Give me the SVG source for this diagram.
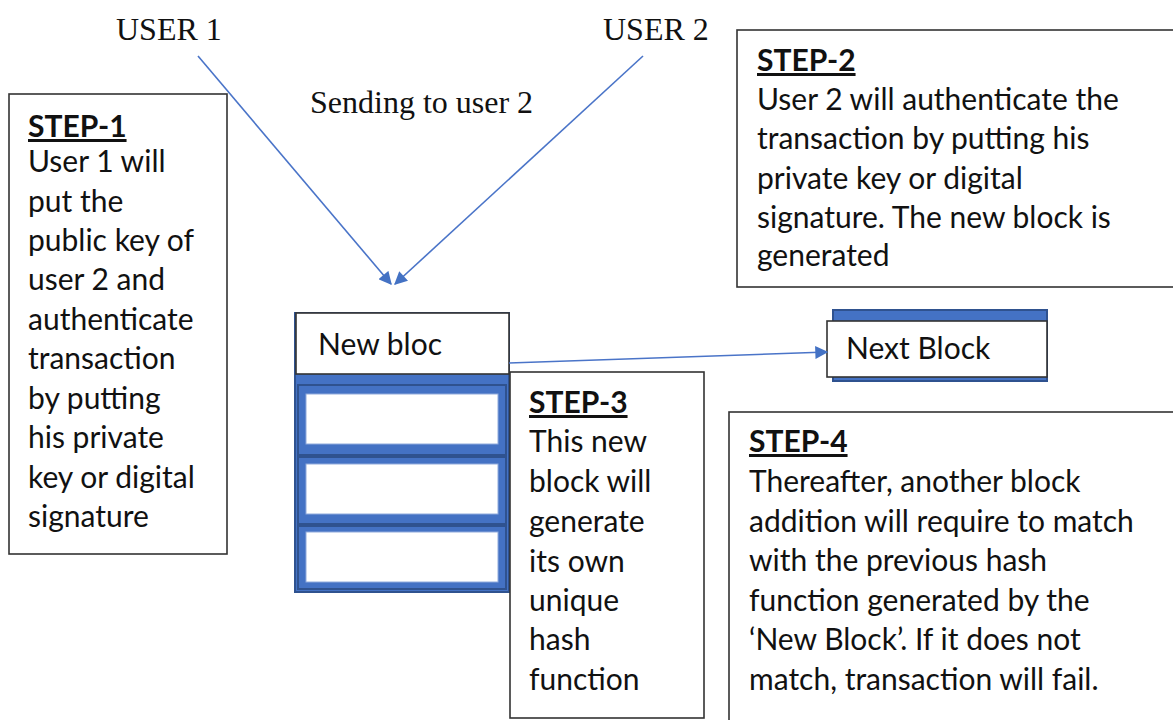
<svg xmlns="http://www.w3.org/2000/svg" width="1173" height="720" viewBox="0 0 1173 720">
<defs>
<style>
.box{fill:#fff;stroke:#333;stroke-width:1.6}
.t{font-family:Lato,"Open Sans","Liberation Sans",sans-serif;font-size:30px;fill:#111}
.h{font-weight:bold;text-decoration:underline}
.ser{font-family:"Liberation Serif","Times New Roman",serif;font-size:32px;fill:#111}
.conn{stroke:#4a74c8;stroke-width:1.6;fill:none}
.blue{fill:#4472c4;stroke:#2f528f;stroke-width:2}
.cell{fill:#fff;stroke:#8faadc;stroke-width:1}
</style>
<marker id="arrB" viewBox="0 0 10 10" refX="9" refY="5" markerWidth="14" markerHeight="13" markerUnits="userSpaceOnUse" orient="auto">
<path d="M0,0 L10,5 L0,10 z" fill="#4472c4"/>
</marker>
</defs>
<rect width="1173" height="720" fill="#fff"/>

<g id="user1"><text class="ser" x="116" y="40">USER 1</text></g>
<g id="user2"><text class="ser" x="603" y="40">USER 2</text></g>
<g id="sending"><text class="ser" x="310" y="113">Sending to user 2</text></g>

<g id="step1">
<rect class="box" x="9" y="94" width="218" height="460"/>
<text class="t" x="28" y="137"><tspan class="h">STEP-1</tspan>
<tspan x="28" y="172">User 1 will</tspan>
<tspan x="28" y="212">put the</tspan>
<tspan x="28" y="251">public key of</tspan>
<tspan x="28" y="290">user 2 and</tspan>
<tspan x="28" y="330">authenticate</tspan>
<tspan x="28" y="369">transaction</tspan>
<tspan x="28" y="409">by putting</tspan>
<tspan x="28" y="448">his private</tspan>
<tspan x="28" y="488">key or digital</tspan>
<tspan x="28" y="527">signature</tspan></text>
</g>

<g id="step2">
<rect class="box" x="737" y="30" width="440" height="257"/>
<text class="t" x="757" y="71"><tspan class="h">STEP-2</tspan>
<tspan x="757" y="110">User 2 will authenticate the</tspan>
<tspan x="757" y="149">transaction by putting his</tspan>
<tspan x="757" y="189">private key or digital</tspan>
<tspan x="757" y="228">signature. The new block is</tspan>
<tspan x="757" y="266">generated</tspan></text>
</g>

<g id="newblock">
<rect class="blue" x="295" y="313" width="214" height="279"/>
<rect class="blue" x="298" y="385" width="208" height="70"/>
<rect class="blue" x="298" y="457" width="208" height="67"/>
<rect class="blue" x="298" y="526" width="208" height="63"/>
<rect class="cell" x="306" y="394" width="192" height="50"/>
<rect class="cell" x="306" y="464" width="192" height="50"/>
<rect class="cell" x="306" y="532" width="192" height="50"/>
<rect class="box" x="296" y="313" width="213" height="61"/>
<text class="t" x="318" y="355">New bloc</text>
</g>

<g id="step3">
<rect class="box" x="510" y="372" width="194" height="346"/>
<text class="t" x="529" y="413"><tspan class="h">STEP-3</tspan>
<tspan x="529" y="452">This new</tspan>
<tspan x="529" y="492">block will</tspan>
<tspan x="529" y="532">generate</tspan>
<tspan x="529" y="572">its own</tspan>
<tspan x="529" y="611">unique</tspan>
<tspan x="529" y="650">hash</tspan>
<tspan x="529" y="690">function</tspan></text>
</g>

<g id="nextblock">
<rect class="blue" x="833" y="310" width="214" height="71"/>
<rect class="box" x="827" y="321" width="220" height="56"/>
<text class="t" x="846" y="359">Next Block</text>
</g>

<g id="step4">
<rect class="box" x="729" y="412" width="450" height="320"/>
<text class="t" x="749" y="452"><tspan class="h">STEP-4</tspan>
<tspan x="749" y="492">Thereafter, another block</tspan>
<tspan x="749" y="532">addition will require to match</tspan>
<tspan x="749" y="571">with the previous hash</tspan>
<tspan x="749" y="611">function generated by the</tspan>
<tspan x="749" y="650">‘New Block’. If it does not</tspan>
<tspan x="749" y="690">match, transaction will fail.</tspan></text>
</g>

<g id="connectors">
<line class="conn" x1="198" y1="56" x2="391" y2="284" marker-end="url(#arrB)"/>
<line class="conn" x1="643" y1="56" x2="395" y2="284" marker-end="url(#arrB)"/>
<line class="conn" x1="509" y1="363" x2="827" y2="352" marker-end="url(#arrB)"/>
</g>
</svg>
